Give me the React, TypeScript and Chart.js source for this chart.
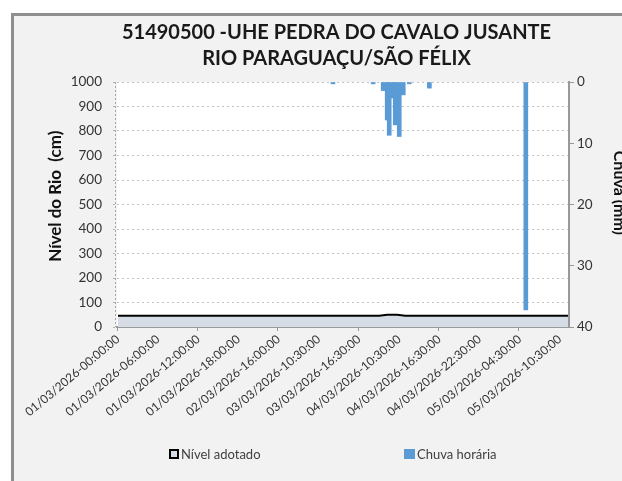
import { useEffect, useRef } from 'react';
import { Chart, registerables } from 'chart.js';

Chart.register(...registerables);

const titleLines = ['51490500 -UHE PEDRA DO CAVALO JUSANTE', 'RIO PARAGUAÇU/SÃO FÉLIX'];
const tickLabels = [
  '01/03/2026-00:00:00',
  '01/03/2026-06:00:00',
  '01/03/2026-12:00:00',
  '01/03/2026-18:00:00',
  '02/03/2026-16:00:00',
  '03/03/2026-10:30:00',
  '03/03/2026-16:30:00',
  '04/03/2026-10:30:00',
  '04/03/2026-16:30:00',
  '04/03/2026-22:30:00',
  '05/03/2026-04:30:00',
  '05/03/2026-10:30:00',
];
const pointsPerLabel = 20;
const pointCount = 225;
const levelBaseCm = 46;
const levelBumpStart = 131;
const levelBumpCm = [47, 48, 49, 50, 50, 50, 50, 50, 50, 49, 48, 47];
const rainIndex = [107, 127, 132, 134, 135, 137, 138, 140, 142, 145, 155, 203];
const rainMm = [0.3, 0.3, 1.4, 6.2, 8.7, 2.6, 7.0, 8.9, 2.1, 0.3, 1.0, 37.2];

const FONT = 'Lato, "Noto Sans", sans-serif';

const categories: string[] = [];
const levelData: number[] = [];
const rainData: (number | null)[] = [];
for (let i = 0; i < pointCount; i++) {
  categories.push(i % pointsPerLabel === 0 ? tickLabels[i / pointsPerLabel] ?? '' : '');
  const b = i - levelBumpStart;
  levelData.push(b >= 0 && b < levelBumpCm.length ? levelBumpCm[b] : levelBaseCm);
  rainData.push(null);
}
rainIndex.forEach((idx, k) => {
  rainData[idx] = rainMm[k];
});

const plotBg = {
  id: 'plotBg',
  beforeDraw(chart: any) {
    const { ctx, chartArea } = chart;
    ctx.save();
    ctx.fillStyle = '#ffffff';
    ctx.fillRect(chartArea.left, chartArea.top, chartArea.right - chartArea.left, chartArea.bottom - chartArea.top);
    ctx.restore();
  },
  afterDraw(chart: any) {
    const { ctx, chartArea } = chart;
    ctx.save();
    ctx.strokeStyle = '#a6a6a6';
    ctx.lineWidth = 1;
    ctx.setLineDash([2, 2]);
    ctx.beginPath();
    ctx.moveTo(chartArea.left - 1.5, chartArea.top);
    ctx.lineTo(chartArea.left - 1.5, chartArea.bottom);
    ctx.stroke();
    ctx.restore();
  },
};

export default function App() {
  const ref = useRef<HTMLCanvasElement | null>(null);

  useEffect(() => {
    if (!ref.current) return;
    const chart = new Chart(ref.current, {
      type: 'bar',
      data: {
        labels: categories,
        datasets: [
          {
            type: 'line',
            label: 'Nível adotado',
            data: levelData,
            yAxisID: 'y',
            borderColor: '#000000',
            borderWidth: 2,
            backgroundColor: '#d6dce5',
            fill: 'origin',
            pointRadius: 0,
            tension: 0,
            order: 2,
          } as any,
          {
            type: 'bar',
            label: 'Chuva horária',
            data: rainData,
            yAxisID: 'y1',
            backgroundColor: '#5b9bd5',
            barThickness: 4,
            order: 1,
          } as any,
        ],
      },
      options: {
        animation: false,
        responsive: false,
        layout: { padding: { left: 30, top: 0, right: 0, bottom: 0 } },
        plugins: {
          legend: { display: false },
          tooltip: { enabled: false },
          title: {
            display: true,
            text: titleLines,
            color: '#1a1a1a',
            font: { family: FONT, size: 20, weight: 'bold', lineHeight: 1.3 },
            padding: { top: 4, bottom: 10 },
          },
        },
        scales: {
          x: {
            afterFit(scale: any) {
              scale.height = 154;
            },
            grid: {
              display: true,
              drawOnChartArea: false,
              drawTicks: true,
              tickLength: 4,
              tickColor: (ctx: any) => (ctx.index % (pointsPerLabel * 2) === 0 ? '#999999' : 'rgba(0,0,0,0)'),
              color: 'rgba(0,0,0,0)',
            },
            border: { display: true, color: '#999999', width: 2 },
            ticks: {
              autoSkip: false,
              minRotation: 40,
              maxRotation: 40,
              padding: 1,
              color: '#333333',
              font: { family: FONT, size: 12 },
            },
          },
          y: {
            position: 'left',
            min: 0,
            max: 1000,
            afterFit(scale: any) {
              scale.width = 73;
            },
            ticks: {
              stepSize: 100,
              padding: 11,
              color: '#333333',
              font: { family: FONT, size: 13.5 },
              callback: (v: any) => String(v),
            },
            grid: {
              color: '#c4c4c4',
              tickColor: '#b0b0b0',
              tickLength: 4,
              tickBorderDash: [2, 2],
              lineWidth: 1,
            },
            border: { display: false, dash: [2, 3] },
            title: {
              display: true,
              text: '    Nível do Rio  (cm)',
              color: '#111111',
              font: { family: FONT, size: 17, weight: 'bold' },
              padding: { top: 1, bottom: 0 },
            },
          },
          y1: {
            position: 'right',
            reverse: true,
            min: 0,
            max: 40,
            afterFit(scale: any) {
              scale.width = 60;
            },
            ticks: {
              stepSize: 10,
              padding: 3,
              color: '#333333',
              font: { family: FONT, size: 13.5 },
              callback: (v: any) => String(v),
            },
            grid: {
              drawOnChartArea: false,
              tickColor: '#999999',
              tickLength: 5,
            },
            border: { display: true, color: '#999999', width: 2 },
            title: {
              display: true,
              text: 'Chuva (mm)      ',
              color: '#111111',
              font: { family: FONT, size: 16, weight: 'bold' },
              padding: { top: 0, bottom: 0 },
            },
          },
        },
      } as any,
      plugins: [plotBg],
    });
    return () => chart.destroy();
  }, []);

  return (
    <div style={{ position: 'fixed', inset: 0, overflow: 'hidden', background: '#ffffff' }}>
      <div
        style={{
          position: 'absolute',
          left: 11,
          top: 13,
          width: 700,
          height: 600,
          border: '3px solid #8f8f8f',
          background: '#f2f2f2',
        }}
      />
      <canvas
        ref={ref}
        width={615}
        height={465}
        style={{ position: 'absolute', left: 14, top: 16, width: 615, height: 465 }}
      />
      <div
        style={{
          position: 'absolute',
          left: 169,
          top: 449,
          width: 10,
          height: 10,
          boxSizing: 'border-box',
          border: '2px solid #000',
          background: '#d6dce5',
        }}
      />
      <div
        style={{
          position: 'absolute',
          left: 181,
          top: 446,
          fontFamily: FONT,
          fontSize: 13,
          lineHeight: '16px',
          color: '#404040',
          whiteSpace: 'nowrap',
        }}
      >
        Nível adotado
      </div>
      <div
        style={{ position: 'absolute', left: 404, top: 449, width: 11, height: 10, background: '#5b9bd5' }}
      />
      <div
        style={{
          position: 'absolute',
          left: 417,
          top: 446,
          fontFamily: FONT,
          fontSize: 13,
          lineHeight: '16px',
          color: '#404040',
          whiteSpace: 'nowrap',
        }}
      >
        Chuva horária
      </div>
    </div>
  );
}
